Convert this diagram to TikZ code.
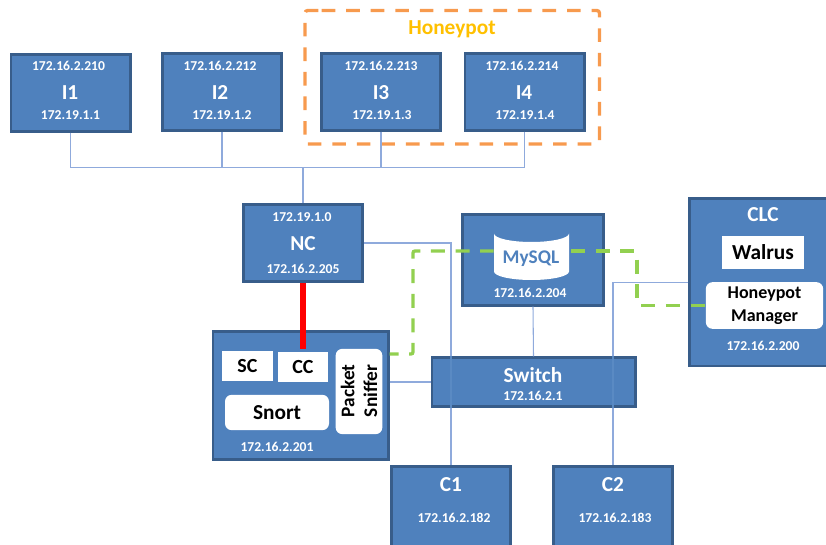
\documentclass[tikz,border=0pt]{standalone}
\usepackage{fontspec}
\setmainfont{Carlito}
\definecolor{boxfill}{HTML}{4F81BD}
\definecolor{boxline}{HTML}{385D8A}
\definecolor{linkcol}{HTML}{8FAADC}
\definecolor{faintcol}{HTML}{5A8AC3}
\definecolor{greendash}{HTML}{92D050}
\definecolor{orangedash}{HTML}{F79A4E}
\definecolor{hplabelcol}{HTML}{FFC000}
\tikzset{
  hostbox/.style={draw=boxline,line width=2pt,fill=boxfill,inner sep=0pt,minimum width=#1},
  ip/.style={text=white,font=\bfseries\fontsize{10.2}{12}\selectfont,inner sep=0pt},
  title/.style={text=white,font=\bfseries\fontsize{16}{18}\selectfont,inner sep=0pt},
  whitesq/.style={fill=white,inner sep=0pt,font=\bfseries\fontsize{15}{17}\selectfont,text=black,align=center},
  whiteround/.style={whitesq,rounded corners=5pt},
  link/.style={draw=linkcol,line width=.8pt},
  faintlink/.style={draw=faintcol,line width=.8pt},
  greenlink/.style={draw=greendash,line width=2.5pt,rounded corners=1.5pt,dash pattern=on 10.5pt off 7.95pt},
  orangeframe/.style={draw=orangedash,line width=2.5pt,rounded corners=2pt,dash pattern=on 10.2pt off 8.2pt}
}
\begin{document}
\begin{tikzpicture}[x=.75pt,y=-.75pt]
\useasboundingbox (0,0) rectangle (826,545);
\clip (0,0) rectangle (826,545);
% honeypot frame
\draw[orangeframe] (319,10.5) -- (599.5,10.5) -- (599.5,144) -- (305,144) -- (305,10.5) -- cycle;
\node[font=\bfseries\fontsize{16}{18}\selectfont,inner sep=0pt,text=hplabelcol] (hplabel) at (452,29) {Honeypot};
% hosts
\node[hostbox=89.5pt,minimum height=57.5pt] (i1) at (70.5,93) {};
\node[hostbox=89.5pt,minimum height=57.5pt] (i2) at (222,92) {};
\node[hostbox=89.5pt,minimum height=57.5pt] (i3) at (381,92) {};
\node[hostbox=89.5pt,minimum height=57.5pt] (i4) at (524.5,92) {};
\node[hostbox=89.5pt,minimum height=57.5pt] (nc) at (303,243) {};
\node[hostbox=131.5pt,minimum height=96pt] (snort) at (300.5,395.5) {};
\node[hostbox=105.5pt,minimum height=68pt] (mysql) at (533,260) {};
\node[hostbox=107pt,minimum height=125.5pt] (clc) at (761,282.5) {};
\node[hostbox=89.5pt,minimum height=70pt] (c1) at (451,513) {};
\node[hostbox=89.5pt,minimum height=70pt] (c2) at (613,513) {};
\node[hostbox=152.5pt,minimum height=36.5pt] (switch) at (533.5,382) {};
% connectors
\coordinate (bus) at (303,167.5);
\draw[link] (i1.south) |- (bus);
\draw[link] (i2.south) |- (bus);
\draw[link] (i3.south) |- (bus);
\draw[link] (i4.south) |- (bus);
\draw[link] (bus) -- (nc.north);
\draw[link] (nc.east) -| (c1.north |- switch.north);
\draw[faintlink] (c1.north |- switch.north) -- (c1.north |- switch.south);
\draw[link] (c1.north |- switch.south) -- (c1.north);
\draw[link] (clc.west) -| (c2.north |- switch.north);
\draw[faintlink] (c2.north |- switch.north) -- (c2.north |- switch.south);
\draw[link] (c2.north |- switch.south) -- (c2.north);
\draw[link] (snort.east |- switch.west) -- (switch.west);
\draw[link] (mysql.south) -- (switch.north);
% white parts
\node[whitesq,minimum width=38.5pt,minimum height=22.5pt] (sc) at (247.5,366) {SC};
\node[whitesq,minimum width=37.5pt,minimum height=22.5pt] (cc) at (303,367) {CC};
\node[whiteround,minimum width=78pt,minimum height=26.5pt,font=\bfseries\fontsize{16}{18}\selectfont] (snortapp) at (277,412.5) {Snort};
\node[whiteround,minimum width=35pt,minimum height=64pt] (sniffer) at (359,391.5) {};
\node[font=\bfseries\fontsize{14.5}{17}\selectfont,text=black,align=center,rotate=90,inner sep=0pt] (sniffertext) at (359,391) {Packet\\Sniffer};
\node[whitesq,minimum width=61.5pt,minimum height=25pt,font=\bfseries\fontsize{16}{18}\selectfont] (walrus) at (763,252.5) {Walrus};
\node[whiteround,minimum width=88pt,minimum height=35pt,font=\bfseries\fontsize{13.5}{17}\selectfont] (hm) at (764.5,305.5) {Honeypot\\Manager};
% database
\fill[white] (494,233.5) arc[start angle=180,end angle=0,x radius=37.5,y radius=8.5]
  -- (569,271.5) arc[start angle=0,end angle=180,x radius=37.5,y radius=8.5] -- cycle;
\draw[draw=boxfill,line width=.5pt] (494,233.5) arc[start angle=180,end angle=360,x radius=37.5,y radius=8.5];
\node[minimum width=56.25pt,minimum height=41.25pt,inner sep=0pt] (db) at (531.5,251) {};
\node[text=boxfill,font=\bfseries\fontsize{14.5}{16}\selectfont,inner sep=0pt] (dbtext) at (531,259) {MySQL};
% strong link and dashed links
\draw[red,line width=5.2pt,shorten >=2.2pt] (nc.south) -- (cc.north);
\coordinate (gstart) at (snort.east |- 0,354);
\coordinate (gleft) at (413,251);
\coordinate (gright) at (637,251);
\coordinate (gdbr) at (571,251);
\draw[greenlink,dash phase=3.75pt] (gstart) -| (gleft) -- (db.west);
\draw[greenlink] (gdbr) -- (gright) |- (hm.west);
% texts
\node[ip] (i1a) at (68.5,66) {172.16.2.210};
\node[title] (i1t) at (70,93) {I1};
\node[ip] (i1b) at (70.5,115) {172.19.1.1};
\node[ip] (i2a) at (220,66) {172.16.2.212};
\node[title] (i2t) at (220,93) {I2};
\node[ip] (i2b) at (222,115) {172.19.1.2};
\node[ip] (i3a) at (381,66) {172.16.2.213};
\node[title] (i3t) at (381,93) {I3};
\node[ip] (i3b) at (382,115) {172.19.1.3};
\node[ip] (i4a) at (522,66) {172.16.2.214};
\node[title] (i4t) at (524,93) {I4};
\node[ip] (i4b) at (525,115) {172.19.1.4};
\node[ip] (nca) at (302,217) {172.19.1.0};
\node[title] (nct) at (303,244) {NC};
\node[ip] (ncb) at (303,269) {172.16.2.205};
\node[ip] (snortip) at (277,447) {172.16.2.201};
\node[ip] (mysqlip) at (530,293) {172.16.2.204};
\node[title] (clct) at (763,215) {CLC};
\node[ip] (clcip) at (763,346) {172.16.2.200};
\node[title] (switcht) at (533,375) {Switch};
\node[ip] (switchip) at (533,396) {172.16.2.1};
\node[title] (c1t) at (451,485) {C1};
\node[ip] (c1ip) at (454,518) {172.16.2.182};
\node[title] (c2t) at (613,485) {C2};
\node[ip] (c2ip) at (615,518) {172.16.2.183};
\end{tikzpicture}
\end{document}
